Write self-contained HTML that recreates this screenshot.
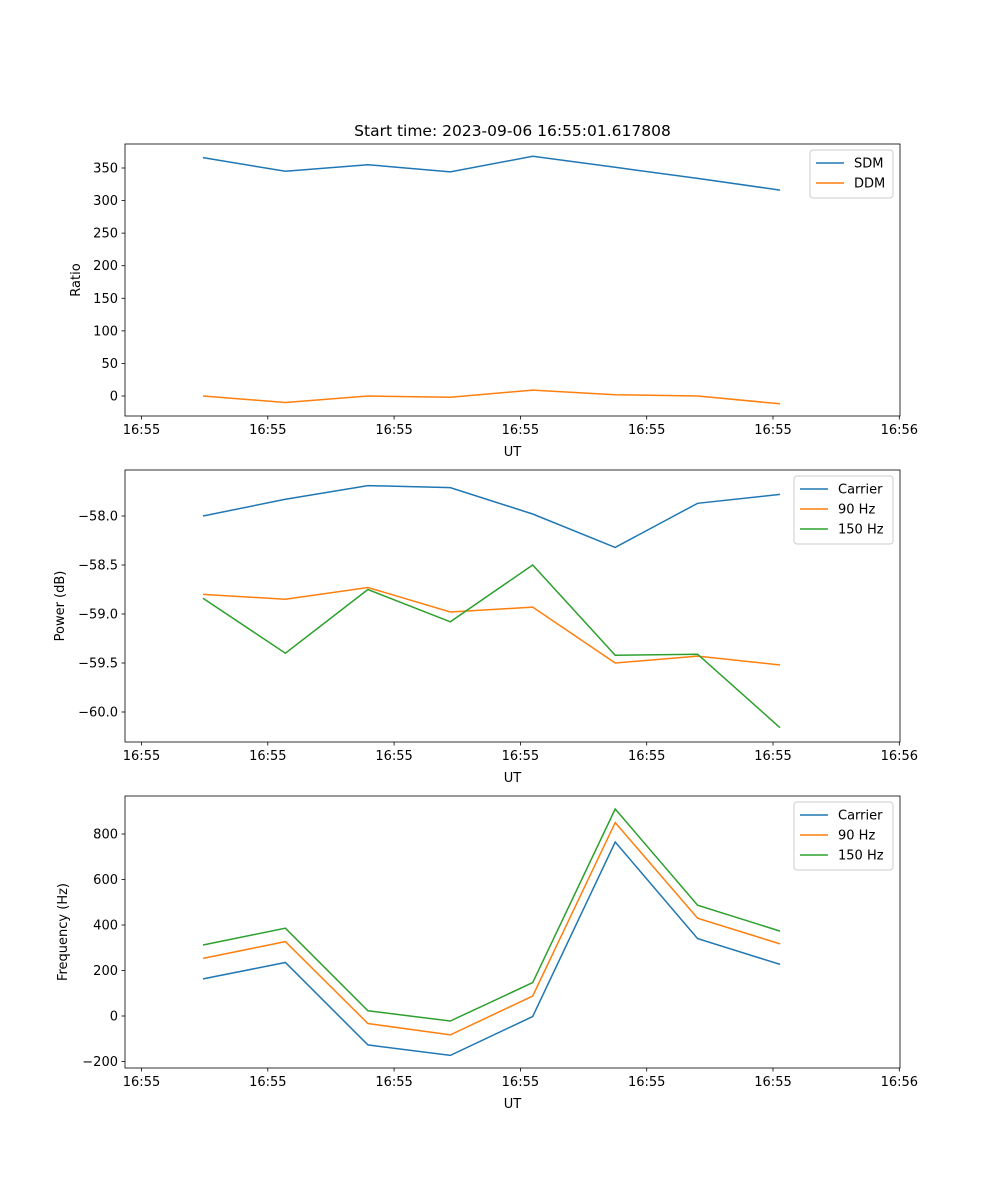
<!DOCTYPE html>
<html><head><meta charset="utf-8"><style>
body{margin:0;background:#fff}
svg{display:block;font-family:"DejaVu Sans","Liberation Sans",sans-serif}
</style></head><body>
<svg id="chart" width="1000" height="1200" viewBox="0 0 1000 1200"></svg>
<script>
const xTickLabels=["16:55","16:55","16:55","16:55","16:55","16:55","16:56"];
const sdm=[366,345,355,344,368,351,334,316];
const ddm=[0,-10,0,-2,9,2,0,-12];
const pCarrier=[-58.00,-57.83,-57.69,-57.71,-57.98,-58.32,-57.87,-57.78];
const p90=[-58.80,-58.85,-58.73,-58.98,-58.93,-59.50,-59.43,-59.52];
const p150=[-58.84,-59.40,-58.75,-59.08,-58.50,-59.42,-59.41,-60.16];
const fCarrier=[163,235,-127,-173,-2,765,340,227];
const f90=[253,327,-33,-83,88,850,430,317];
const f150=[312,386,23,-22,147,910,487,373];
const ratioTicks=[0,50,100,150,200,250,300,350];
const powerTicks=[-60.0,-59.5,-59.0,-58.5,-58.0];
const freqTicks=[-200,0,200,400,600,800];

const NS="http://www.w3.org/2000/svg";
const svg=document.getElementById('chart');
function mk(tag,attrs,parent,text){const e=document.createElementNS(NS,tag);for(const k in attrs)e.setAttribute(k,attrs[k]);if(text!==undefined)e.textContent=text;(parent||svg).appendChild(e);return e;}
const X0=125,X1=900;
function xData(i){return 203+i*82.43;}
function xTick(j){return 141.5+j*126.3;}
const C={blue:"#1f77b4",orange:"#ff7f0e",green:"#2ca02c"};

function panel(name,top,bottom,vFrom,pFrom,vTo,pTo,ticks,fmt,ylabel,series,legend){
  const g=mk('g',{},svg);
  
  
  const y=v=>pFrom+(v-vFrom)*(pTo-pFrom)/(vTo-vFrom);
  series.forEach(s=>{
    const p=mk('polyline',{points:s.vals.map((v,i)=>xData(i).toFixed(1)+','+y(v).toFixed(1)).join(' '),fill:'none',stroke:s.color,'stroke-width':1.5},g);
    
    
  });
  mk('rect',{x:X0,y:top,width:X1-X0,height:bottom-top,fill:'none',stroke:'#000','stroke-width':0.8},g);
  ticks.forEach(t=>{const yy=y(t);
    mk('line',{x1:X0-3.5,x2:X0,y1:yy,y2:yy,stroke:'#000','stroke-width':0.8},g);
    const tx=mk('text',{x:X0-7,y:yy+4.5,'font-size':13,'text-anchor':'end'},g,fmt(t));
    
  });
  xTickLabels.forEach((l,j)=>{const xx=xTick(j);
    mk('line',{x1:xx,x2:xx,y1:bottom,y2:bottom+3.5,stroke:'#000','stroke-width':0.8},g);
    const tx=mk('text',{x:xx,y:bottom+18,'font-size':13,'text-anchor':'middle'},g,l);
    
  });
  const xl=mk('text',{x:(X0+X1)/2,y:bottom+40,'font-size':13,'text-anchor':'middle'},g,'UT');
  
  const yc=(top+bottom)/2;
  const yl=mk('text',{x:legend.ylx,y:yc,'font-size':13,'text-anchor':'middle',transform:`rotate(-90 ${legend.ylx} ${yc})`},g,ylabel);
  
  const lg=mk('g',{},g);
  
  const h=8+series.length*20;
  mk('rect',{x:legend.x,y:top+6,width:X1-7-legend.x,height:h,fill:'#fff',stroke:'#ccc',rx:3},lg);
  series.forEach((s,i)=>{const yy=top+6+13+i*20;
    mk('line',{x1:legend.x+6,x2:legend.x+34,y1:yy,y2:yy,stroke:s.color,'stroke-width':1.5},lg);
    const t=mk('text',{x:legend.x+44,y:yy+4.5,'font-size':13},lg,s.label);
    
  });
}
const title=mk('text',{x:512.5,y:136,'font-size':15.5,'text-anchor':'middle'},svg,'Start time: 2023-09-06 16:55:01.617808');


panel('ratio-panel',144,416,0,396,350,168,ratioTicks,v=>String(v),'Ratio',
 [{key:'sdm',label:'SDM',vals:sdm,color:C.blue},{key:'ddm',label:'DDM',vals:ddm,color:C.orange}],{x:810,ylx:80});
panel('power-panel',470,742,-58,516,-60,712,powerTicks,v=>v.toFixed(1).replace('-','\u2212'),'Power (dB)',
 [{key:'carrier',label:'Carrier',vals:pCarrier,color:C.blue},{key:'90hz',label:'90 Hz',vals:p90,color:C.orange},{key:'150hz',label:'150 Hz',vals:p150,color:C.green}],{x:794,ylx:64});
panel('frequency-panel',796,1068,0,1016,800,834,freqTicks,v=>String(v).replace('-','\u2212'),'Frequency (Hz)',
 [{key:'carrier',label:'Carrier',vals:fCarrier,color:C.blue},{key:'90hz',label:'90 Hz',vals:f90,color:C.orange},{key:'150hz',label:'150 Hz',vals:f150,color:C.green}],{x:794,ylx:67});
</script>
</body></html>
